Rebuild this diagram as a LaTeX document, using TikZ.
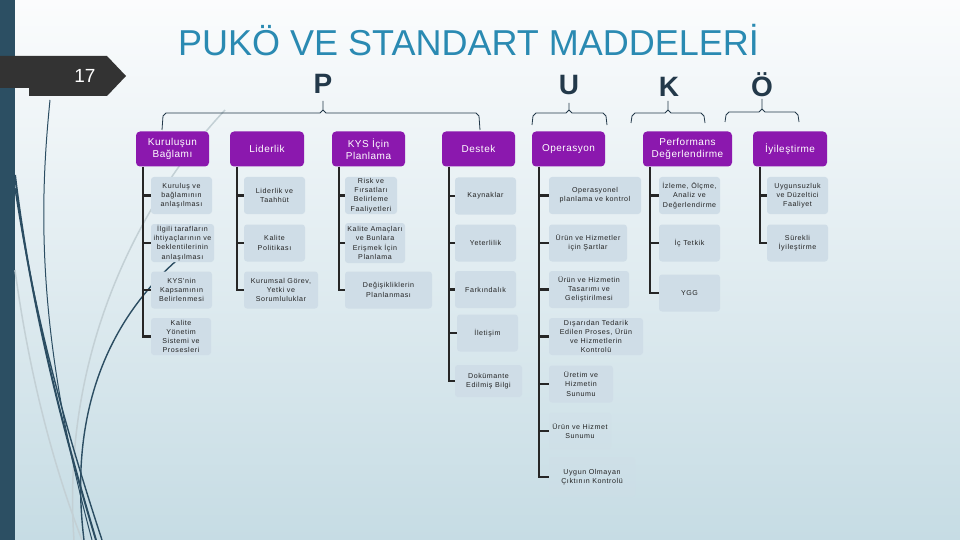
\documentclass[tikz,border=0pt]{standalone}
\usepackage{fontspec}
\setmainfont{Liberation Sans}
\newfontfamily\headfont[LetterSpace=5]{Liberation Sans}
\newfontfamily\itemfont[LetterSpace=8]{Liberation Sans}
\usetikzlibrary{positioning}

\definecolor{bgtop}{HTML}{FBFCFD}
\definecolor{bgbottom}{HTML}{C6DCE4}
\definecolor{barblue}{HTML}{2C4F63}
\definecolor{tagdark}{HTML}{333333}
\definecolor{titleblue}{HTML}{2A8AB2}
\definecolor{letterdark}{HTML}{23394A}
\definecolor{headpurple}{HTML}{8B18AE}
\definecolor{itemfill}{HTML}{CFDDE7}
\definecolor{itemtext}{HTML}{222222}
\definecolor{stemcol}{HTML}{262626}
\definecolor{wispdark}{HTML}{2B4D62}
\definecolor{wisplight}{HTML}{C3D0D5}

% bracket over a group of headers
\newcommand{\pbrace}[6]{%
  \draw[bracket] (#1,#6) -- (#1+1,#4+3) -- (#1+4,#4) -- (#3-3,#4) -- (#3,#4-3) -- (#3,#5)
    (#3,#4-3) -- (#3+3,#4) -- (#2-4,#4) -- (#2-1,#4+3) -- (#2,#6);}

\begin{document}
\begin{tikzpicture}[x=1pt, y=-1pt,
    headbox/.style={fill=headpurple, rounded corners=4pt, text=white, align=center,
      font=\headfont\fontsize{10}{11.5}\selectfont, minimum height=35pt, inner sep=1pt},
    itembox/.style={fill=itemfill, rounded corners=3pt, align=center, text=itemtext,
      font=\itemfont\fontsize{7.1}{9.2}\selectfont, minimum height=37pt, inner sep=1pt},
    itemfaint/.style={itembox, fill opacity=0.3, text opacity=1},
    stem/.style={draw=stemcol, line width=2.2pt},
    bracket/.style={draw=letterdark, line width=0.8pt},
    pukletter/.style={anchor=base, font=\fontsize{28}{28}\selectfont\bfseries, text=letterdark},
    wisp/.style={draw=wispdark, line width=1.4pt},
    wispl/.style={draw=wisplight, line width=1.5pt}]

    \useasboundingbox (0,0) rectangle (960,540);
    \shade[top color=bgtop, bottom color=bgbottom] (0,0) rectangle (960,540);

    % left bar and wisps
    \fill[barblue] (0,0) rectangle (15,540);
    \draw[wispl] (225,110) .. controls (150,190) and (60,340) .. (74,540);
    \draw[wispl] (15,270) .. controls (30,380) and (55,470) .. (82,540);
    \draw[wisp, line width=1pt] (50,100) .. controls (40,200) and (35,330) .. (92,540);
    \draw[wisp, line width=2pt] (15,175) .. controls (30,300) and (60,420) .. (96,540);
    \draw[wisp] (15,188) .. controls (35,320) and (66,430) .. (102,540);
    \draw[wisp] (176,261) .. controls (110,320) and (68,410) .. (84,540);

    % page tag
    \fill[tagdark] (0,56) -- (107,56) -- (126,76) -- (107,96) -- (29,96) -- (29,88) -- (0,88) -- cycle;
    \node[text=white, font=\fontsize{19}{19}\selectfont] (pagenum) at (85,76) {17};

    % title
    \node[anchor=base west, inner sep=0pt, text=titleblue, font=\fontsize{36}{36}\selectfont]
      (title) at (178,56) {PUKÖ VE STANDART MADDELERİ};

    % P U K Ö
    \node[pukletter] (letP) at (323,94) {P};
    \node[pukletter] (letU) at (569,95) {U};
    \node[pukletter] (letK) at (669,97) {K};
    \node[pukletter] (letO) at (762,97) {Ö};
    \pbrace{162}{480}{323}{113}{101}{130}
    \pbrace{532}{607}{569}{113}{103}{125}
    \pbrace{631}{705}{668}{113}{101}{123}
    \pbrace{725}{799}{762}{112}{99}{122}

    % headers
    \node[headbox, minimum width=73pt] (kur) at (172.5,149) {Kuruluşun\\Bağlamı};
    \node[headbox, minimum width=74pt] (lid) at (267,149) {Liderlik};
    \node[headbox, minimum width=73pt] (kys) at (368.5,149) {KYS İçin\\Planlama};
    \node[headbox, minimum width=73pt] (des) at (478.5,149) {Destek};
    \node[headbox, minimum width=73pt] (ops) at (568.5,149) {Operasyon};
    \node[headbox, minimum width=89pt] (per) at (687.5,149) {Performans\\Değerlendirme};
    \node[headbox, minimum width=74pt] (iyi) at (790,149) {İyileştirme};

    % Kuruluşun Bağlamı
    \node[itembox, minimum width=61pt] (kur1) at (181.5,195.5) {Kuruluş ve\\bağlamının\\anlaşılması};
    \node[itembox, minimum width=63pt, minimum height=38pt] (kur2) at (182.5,243) {İlgili tarafların\\ihtiyaçlarının ve\\beklentilerinin\\anlaşılması};
    \node[itembox, minimum width=61pt] (kur3) at (181.5,290) {KYS'nin\\Kapsamının\\Belirlenmesi};
    \node[itembox, minimum width=60pt] (kur4) at (181,336.5) {Kalite\\Yönetim\\Sistemi ve\\Prosesleri};

    % Liderlik
    \node[itembox, minimum width=61pt] (lid1) at (274.5,195.5) {Liderlik ve\\Taahhüt};
    \node[itembox, minimum width=61pt] (lid2) at (274.5,243) {Kalite\\Politikası};
    \node[itembox, minimum width=74pt] (lid3) at (281,290) {Kurumsal Görev,\\Yetki ve\\Sorumluluklar};

    % KYS Için Planlama
    \node[itembox, minimum width=52pt] (kys1) at (371,195.5) {Risk ve\\Fırsatları\\Belirleme\\Faaliyetleri};
    \node[itembox, minimum width=60pt, minimum height=40pt] (kys2) at (375,243) {Kalite Amaçları\\ve Bunlara\\Erişmek İçin\\Planlama};
    \node[itembox, minimum width=87pt] (kys3) at (388.5,290) {Değişikliklerin\\Planlanması};

    % Destek
    \node[itembox, minimum width=61pt] (des1) at (485.5,196) {Kaynaklar};
    \node[itembox, minimum width=61pt] (des2) at (485.5,243) {Yeterlilik};
    \node[itembox, minimum width=61pt] (des3) at (485.5,289.5) {Farkındalık};
    \node[itembox, minimum width=61pt] (des4) at (487.5,333) {İletişim};
    \node[itembox, minimum width=67pt, minimum height=32pt] (des5) at (488.5,381) {Dokümante\\Edilmiş Bilgi};

    % Operasyon
    \node[itembox, minimum width=92pt] (ops1) at (595,195.5) {Operasyonel\\planlama ve kontrol};
    \node[itembox, minimum width=78pt] (ops2) at (588,243) {Ürün ve Hizmetler\\için Şartlar};
    \node[itembox, minimum width=80pt] (ops3) at (589,289.5) {Ürün ve Hizmetin\\Tasarımı ve\\Geliştirilmesi};
    \node[itembox, minimum width=94pt] (ops4) at (596,336.5) {Dışarıdan Tedarik\\Edilen Proses, Ürün\\ve Hizmetlerin\\Kontrolü};
    \node[itembox, minimum width=64pt] (ops5) at (581,384) {Üretim ve\\Hizmetin\\Sunumu};
    \node[itemfaint, minimum width=62pt] (ops6) at (580,431) {Ürün ve Hizmet\\Sunumu};
    \node[itemfaint, minimum width=86pt, minimum height=40pt] (ops7) at (592,477) {Uygun Olmayan\\Çıktının Kontrolü};

    % Performans Degerlendirme
    \node[itembox, minimum width=61pt] (per1) at (689.5,195.5) {İzleme, Ölçme,\\Analiz ve\\Değerlendirme};
    \node[itembox, minimum width=61pt] (per2) at (689.5,243) {İç Tetkik};
    \node[itembox, minimum width=61pt] (per3) at (689.5,293) {YGG};

    % Iyilestirme
    \node[itembox, minimum width=61pt] (iyi1) at (797.5,195.5) {Uygunsuzluk\\ve Düzeltici\\Faaliyet};
    \node[itembox, minimum width=61pt] (iyi2) at (797.5,243) {Sürekli\\İyileştirme};

    % stems
    \foreach \h/\last/\lst in {kur/kur4/{kur1,kur2,kur3}, lid/lid3/{lid1,lid2},
        kys/kys3/{kys1,kys2}, des/des5/{des1,des2,des3,des4},
        ops/ops7/{ops1,ops2,ops3,ops4,ops5,ops6}, per/per3/{per1,per2}, iyi/iyi2/{iyi1}}{
      \coordinate (\h s) at ([xshift=7pt]\h.south west);
      \draw[stem] (\h s) |- (\last.west);
      \foreach \n in \lst \draw[stem] (\h s |- \n.west) -- (\n.west);
    }
\end{tikzpicture}
\end{document}
